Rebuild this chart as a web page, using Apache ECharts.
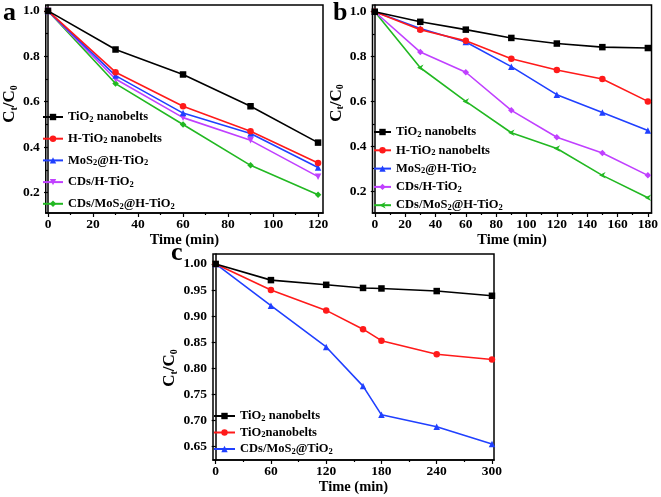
<!DOCTYPE html>
<html>
<head>
<meta charset="utf-8">
<script src="https://cdn.jsdelivr.net/npm/echarts@6/dist/echarts.min.js"></script>
<style>
html,body{margin:0;padding:0;background:#fff;}
#chart{width:661px;height:497px;}
</style>
</head>
<body>
<div id="chart"></div>
<script>
// ---------- DATA ----------
var timeA = [0, 30, 60, 90, 120];
var namesA = ['TiO2 nanobelts', 'H-TiO2 nanobelts', 'MoS2@H-TiO2', 'CDs/H-TiO2', 'CDs/MoS2@H-TiO2'];
var a_TiO2 = [1.0, 0.83, 0.72, 0.58, 0.42];
var a_HTiO2 = [1.0, 0.73, 0.58, 0.47, 0.33];
var a_MoS2 = [1.0, 0.715, 0.55, 0.46, 0.31];
var a_CDs = [1.0, 0.70, 0.53, 0.43, 0.27];
var a_CDsMoS2 = [1.0, 0.68, 0.50, 0.32, 0.19];

var timeB = [0, 30, 60, 90, 120, 150, 180];
var namesB = ['TiO2 nanobelts', 'H-TiO2 nanobelts', 'MoS2@H-TiO2', 'CDs/H-TiO2', 'CDs/MoS2@H-TiO2'];
var b_TiO2 = [1.0, 0.955, 0.92, 0.883, 0.858, 0.842, 0.838];
var b_HTiO2 = [1.0, 0.92, 0.87, 0.79, 0.74, 0.70, 0.60];
var b_MoS2 = [1.0, 0.925, 0.865, 0.755, 0.63, 0.55, 0.47];
var b_CDs = [1.0, 0.82, 0.73, 0.56, 0.44, 0.37, 0.27];
var b_CDsMoS2 = [1.0, 0.75, 0.60, 0.46, 0.39, 0.27, 0.17];

var timeC = [0, 60, 120, 160, 180, 240, 300];
var namesC = ['TiO2 nanobelts', 'TiO2nanobelts', 'CDs/MoS2@TiO2'];
var c_TiO2 = [1.0, 0.969, 0.960, 0.954, 0.953, 0.948, 0.939];
var c_TiO2b = [1.0, 0.950, 0.911, 0.875, 0.853, 0.827, 0.817];
var c_CDsMoS2 = [1.0, 0.920, 0.841, 0.766, 0.711, 0.688, 0.655];

var ticksAx = [0, 20, 40, 60, 80, 100, 120];
var minorAx = [10, 30, 50, 70, 90, 110];
var ticksAy = [0.2, 0.4, 0.6, 0.8, 1.0];
var minorAy = [0.3, 0.5, 0.7, 0.9];
var ticksBx = [0, 20, 40, 60, 80, 100, 120, 140, 160, 180];
var minorBx = [10, 30, 50, 70, 90, 110, 130, 150, 170];
var ticksBy = [0.2, 0.4, 0.6, 0.8, 1.0];
var minorBy = [0.3, 0.5, 0.7, 0.9];
var ticksCx = [0, 60, 120, 180, 240, 300];
var minorCx = [30, 90, 150, 210, 270];
var ticksCy = [0.65, 0.70, 0.75, 0.80, 0.85, 0.90, 0.95, 1.00];

// ---------- STYLE ----------
var FONT = 'Liberation Serif';
var colors5 = ['#000000', '#ff1a1a', '#2040ff', '#c040ff', '#22b822'];
var symA = ['rect', 'circle', 'triangle', 'path://M0,0 L10,0 L5,9 Z', 'diamond'];
var symB = ['rect', 'circle', 'triangle', 'diamond', 'path://M0,5 L10,0 L7,5 L10,10 Z'];
var symC = ['rect', 'circle', 'triangle'];

function pairs(xs, ys) { return xs.map(function (x, i) { return [x, ys[i]]; }); }
function subs(s) { return s.replace(/([OS])2/g, '$1{s|2}'); }

var rich = {
  s: { fontFamily: FONT, fontWeight: 'bold', fontSize: 8.5, lineHeight: 9, verticalAlign: 'bottom', color: '#000' }
};

var grids = [
  { left: 42, top: 5, width: 281, height: 208 },
  { left: 372.5, top: 5, width: 280.5, height: 208 },
  { left: 213, top: 254, width: 281, height: 206 }
];
grids.forEach(function (g) { g.show = true; g.borderColor = '#000'; g.borderWidth = 1.5; g.backgroundColor = 'transparent'; });

var ranges = [
  { x: [-1, 122.2], y: [0.11, 1.026], xt: ticksAx, xm: minorAx, yt: ticksAy, ym: minorAy, yd: 1, np: [0, 0, 0, 10], ng: 24 },
  { x: [-1.5, 182.4], y: [0.102, 1.03], xt: ticksBx, xm: minorBx, yt: ticksBy, ym: minorBy, yd: 1, np: [0, 0, 0, 12], ng: 24 },
  { x: [-2.9, 302.2], y: [0.6245, 1.019], xt: ticksCx, xm: minorCx, yt: ticksCy, ym: [], yd: 2, np: [0, 22, 0, 0], ng: 30 }
];

var labelFont = { fontFamily: FONT, fontWeight: 'bold', fontSize: 13.5, color: '#000' };
var xAxes = [], yAxes = [];
ranges.forEach(function (r, gi) {
  xAxes.push({
    type: 'value', gridIndex: gi, min: r.x[0], max: r.x[1], position: 'bottom',
    name: 'Time (min)', nameLocation: 'middle', nameGap: 19,
    nameTextStyle: { fontFamily: FONT, fontWeight: 'bold', fontSize: 14.5, color: '#000' },
    axisLine: { show: true, lineStyle: { color: '#000', width: 1.5 } },
    axisTick: { show: true, inside: false, length: 4, lineStyle: { color: '#000', width: 1.2 }, customValues: r.xt },
    axisLabel: Object.assign({ margin: 5, customValues: r.xt, formatter: function (v) { return String(v); } }, labelFont),
    splitLine: { show: false }
  });
  xAxes.push({
    type: 'value', gridIndex: gi, min: r.x[0], max: r.x[1], position: 'bottom',
    axisLine: { show: false },
    axisTick: { show: true, inside: false, length: 2, lineStyle: { color: '#000', width: 1.2 }, customValues: r.xm },
    axisLabel: { show: false }, splitLine: { show: false }
  });
  yAxes.push({
    type: 'value', gridIndex: gi, min: r.y[0], max: r.y[1], position: 'left',
    name: '{n|C}{s|t}{n|/C}{s|0}', nameLocation: 'middle', nameGap: r.ng, nameRotate: 90,
    nameTextStyle: {
      padding: r.np,
      rich: {
        n: { fontFamily: FONT, fontWeight: 'bold', fontSize: 17, color: '#000', lineHeight: 19 },
        s: { fontFamily: FONT, fontWeight: 'bold', fontSize: 10, color: '#000', lineHeight: 11, verticalAlign: 'bottom' }
      }
    },
    axisLine: { show: true, lineStyle: { color: '#000', width: 1.5 } },
    axisTick: { show: true, inside: false, length: 4, lineStyle: { color: '#000', width: 1.2 }, customValues: r.yt },
    axisLabel: Object.assign({ margin: 6, customValues: r.yt, formatter: (function (d) { return function (v) { return v.toFixed(d); }; })(r.yd) }, labelFont),
    splitLine: { show: false }
  });
  yAxes.push({
    type: 'value', gridIndex: gi, min: r.y[0], max: r.y[1], position: 'left',
    axisLine: { show: false },
    axisTick: { show: r.ym.length > 0, inside: false, length: 2, lineStyle: { color: '#000', width: 1.2 }, customValues: r.ym.length ? r.ym : [0] },
    axisLabel: { show: false }, splitLine: { show: false }
  });
});

var series = [];
function addSeries(prefix, names, xs, ysList, syms, gi, colorIdx) {
  names.forEach(function (n, i) {
    series.push({
      type: 'line', name: prefix + n, xAxisIndex: gi * 2, yAxisIndex: gi * 2,
      data: pairs(xs, ysList[i]),
      symbol: syms[i], symbolSize: 6.5, showAllSymbol: true,
      lineStyle: { color: colors5[colorIdx[i]], width: 1.6 },
      itemStyle: { color: colors5[colorIdx[i]] },
      animation: false, z: 10 - i
    });
  });
}
addSeries('a:', namesA, timeA, [a_TiO2, a_HTiO2, a_MoS2, a_CDs, a_CDsMoS2], symA, 0, [0, 1, 2, 3, 4]);
addSeries('b:', namesB, timeB, [b_TiO2, b_HTiO2, b_MoS2, b_CDs, b_CDsMoS2], symB, 1, [0, 1, 2, 3, 4]);
addSeries('c:', namesC, timeC, [c_TiO2, c_TiO2b, c_CDsMoS2], symC, 2, [0, 1, 2]);

function legendFor(prefix, names, left, top, gap, w) {
  return {
    orient: 'vertical', left: left, top: top, padding: 0, itemGap: gap,
    itemWidth: w, itemHeight: 8,
    data: names.map(function (n) { return prefix + n; }),
    formatter: function (name) { return subs(name.slice(2)); },
    textStyle: { fontFamily: FONT, fontWeight: 'bold', fontSize: 12.5, color: '#000', lineHeight: 14, rich: rich },
    selectedMode: false
  };
}

var option = {
  backgroundColor: '#fff',
  animation: false,
  grid: grids,
  xAxis: xAxes,
  yAxis: yAxes,
  legend: [
    legendFor('a:', namesA, 42, 110, 7.7, 20),
    legendFor('b:', namesB, 373, 125, 4.3, 17),
    legendFor('c:', namesC, 213, 409, 2.5, 21)
  ],
  graphic: [
    { type: 'text', left: 3, top: 0, style: { text: 'a', font: 'bold 26px "Liberation Serif"', fill: '#000' } },
    { type: 'text', left: 333, top: 0, style: { text: 'b', font: 'bold 26px "Liberation Serif"', fill: '#000' } },
    { type: 'text', left: 171, top: 240, style: { text: 'c', font: 'bold 26px "Liberation Serif"', fill: '#000' } }
  ],
  series: series
};

var chart = echarts.init(document.getElementById('chart'), null, { renderer: 'canvas' });
chart.setOption(option);
</script>
</body>
</html>
